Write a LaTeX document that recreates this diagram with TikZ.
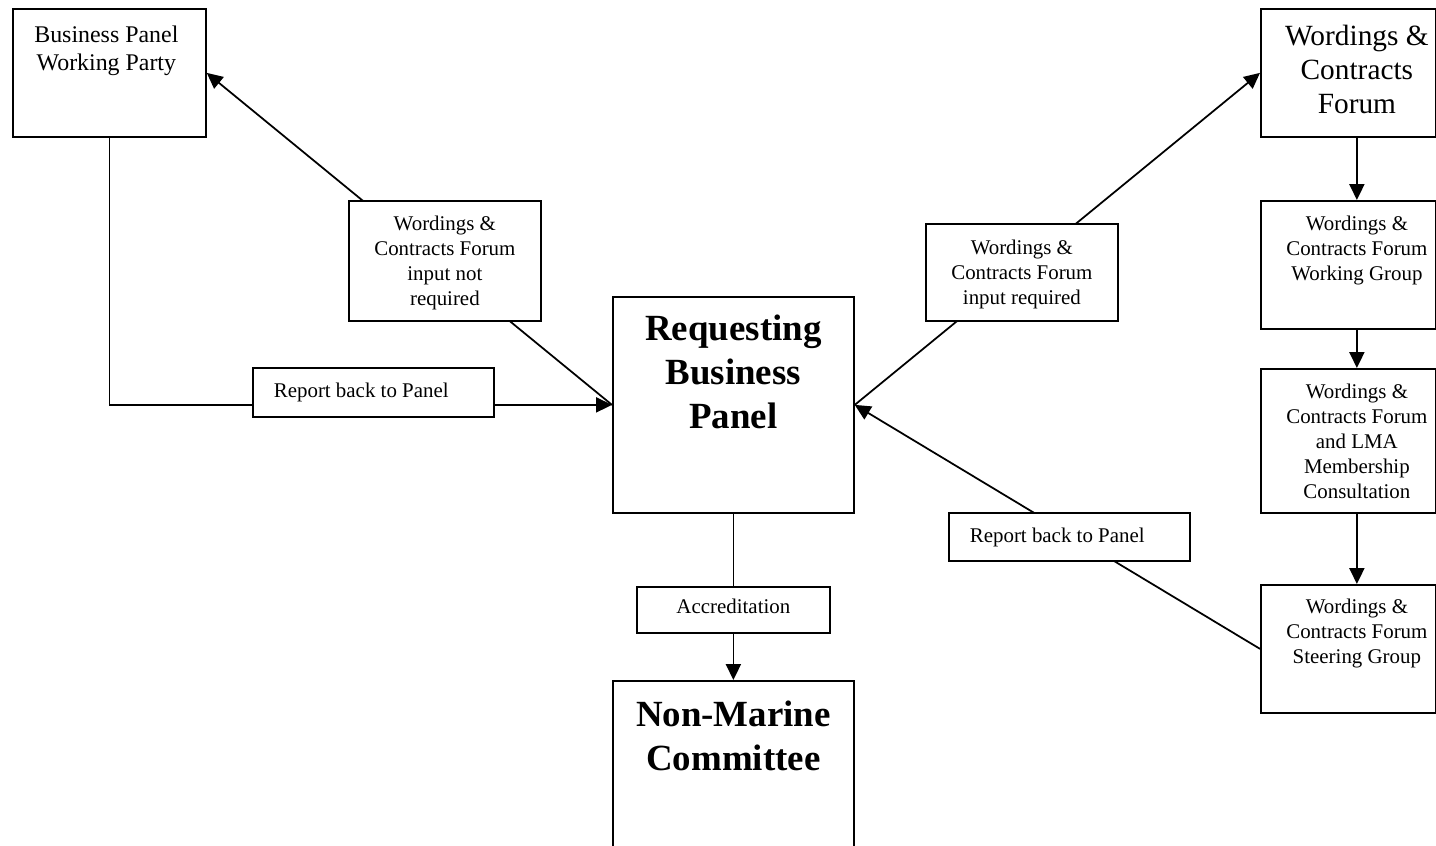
\documentclass[tikz,border=0pt]{standalone}
\usepackage{fontspec}
\setmainfont{Liberation Serif}
\usetikzlibrary{arrows.meta}
\newlength{\px}\setlength{\px}{0.02cm}
% box text: width, height, first baseline, text
\newcommand{\topbox}[5][\centering]{\parbox[t][#3][t]{#2}{#1\rule{0pt}{#4}#5}}
\newcommand{\smallfnt}{\fontsize{11.9}{14.2}\selectfont}
\newcommand{\wpfnt}{\fontsize{13.6}{15.9}\selectfont}
\newcommand{\wcffnt}{\fontsize{16.7}{19.3}\selectfont}
\newcommand{\bigfnt}{\fontsize{21}{24.8}\selectfont\bfseries}

\begin{document}
\begin{tikzpicture}[
  x=0.02cm, y=-0.02cm,
  box/.style={draw, line width=1pt, anchor=north west, inner sep=0pt, font=\smallfnt},
  lbl/.style={box, fill=white},
  arr/.style={-{Triangle[length=9pt, width=8.5pt]}, line width=1pt}
]
\useasboundingbox (0,0) rectangle (1436,845);
\clip (0,0) rectangle (1436,845);
% panels
\node[box, font=\wpfnt] (wparty) at (12,8) {\makebox[193\px][l]{\topbox{187\px}{128\px}{34\px}{Business Panel\\Working Party}}};
\node[box, font=\bigfnt] (rbp) at (612,296) {\topbox{241\px}{216\px}{44\px}{Requesting\\Business\\Panel}};
\node[box, font=\bigfnt] (nmc) at (612,680) {\topbox{241\px}{190\px}{46\px}{Non-Marine\\Committee}};
% forum column
\node[box, font=\wcffnt] (wcf) at (1260,8) {\makebox[175\px][l]{\topbox{192\px}{128\px}{37\px}{Wordings \&\\Contracts\\Forum}}};
\node[box] (wcfwg) at (1260,200) {\makebox[175\px][l]{\topbox{192\px}{128\px}{30\px}{Wordings \&\\Contracts Forum\\Working Group}}};
\node[box] (lma) at (1260,368) {\makebox[175\px][l]{\topbox{192\px}{144\px}{30\px}{Wordings \&\\Contracts Forum\\and LMA\\Membership\\Consultation}}};
\node[box] (steer) at (1260,584) {\makebox[175\px][l]{\topbox{192\px}{128\px}{29\px}{Wordings \&\\Contracts Forum\\Steering Group}}};

\draw[arr] (rbp.west) -- (wparty.east);
\draw[arr] (wparty.south) |- (rbp.west);
\draw[arr] (rbp.south) -- (nmc.north);
\draw[arr] (rbp.east) -- (wcf.west);
\draw[arr] (steer.west) -- (rbp.east);
\foreach \a/\b in {wcf/wcfwg, wcfwg/lma, lma/steer}
  \draw[arr] ([xshift=8.5\px]\a.south) -- ([xshift=8.5\px]\b.north);

% labels on the connectors
\node[lbl] (notreq) at (348,200) {\topbox{192\px}{120\px}{30\px}{Wordings \&\\Contracts Forum\\input not\\required}};
\node[lbl] (req) at (925,223) {\topbox{192\px}{97\px}{31\px}{Wordings \&\\Contracts Forum\\input required}};
\node[lbl] (backl) at (252,367) {\topbox[\raggedright\hspace*{21\px}]{241\px}{49\px}{30\px}{Report back to Panel}};
\node[lbl] (backr) at (948,512) {\topbox[\raggedright\hspace*{21\px}]{241\px}{48\px}{30\px}{Report back to Panel}};
\node[lbl] (accr) at (636,586) {\topbox{193\px}{46\px}{27\px}{Accreditation}};
\end{tikzpicture}
\end{document}
